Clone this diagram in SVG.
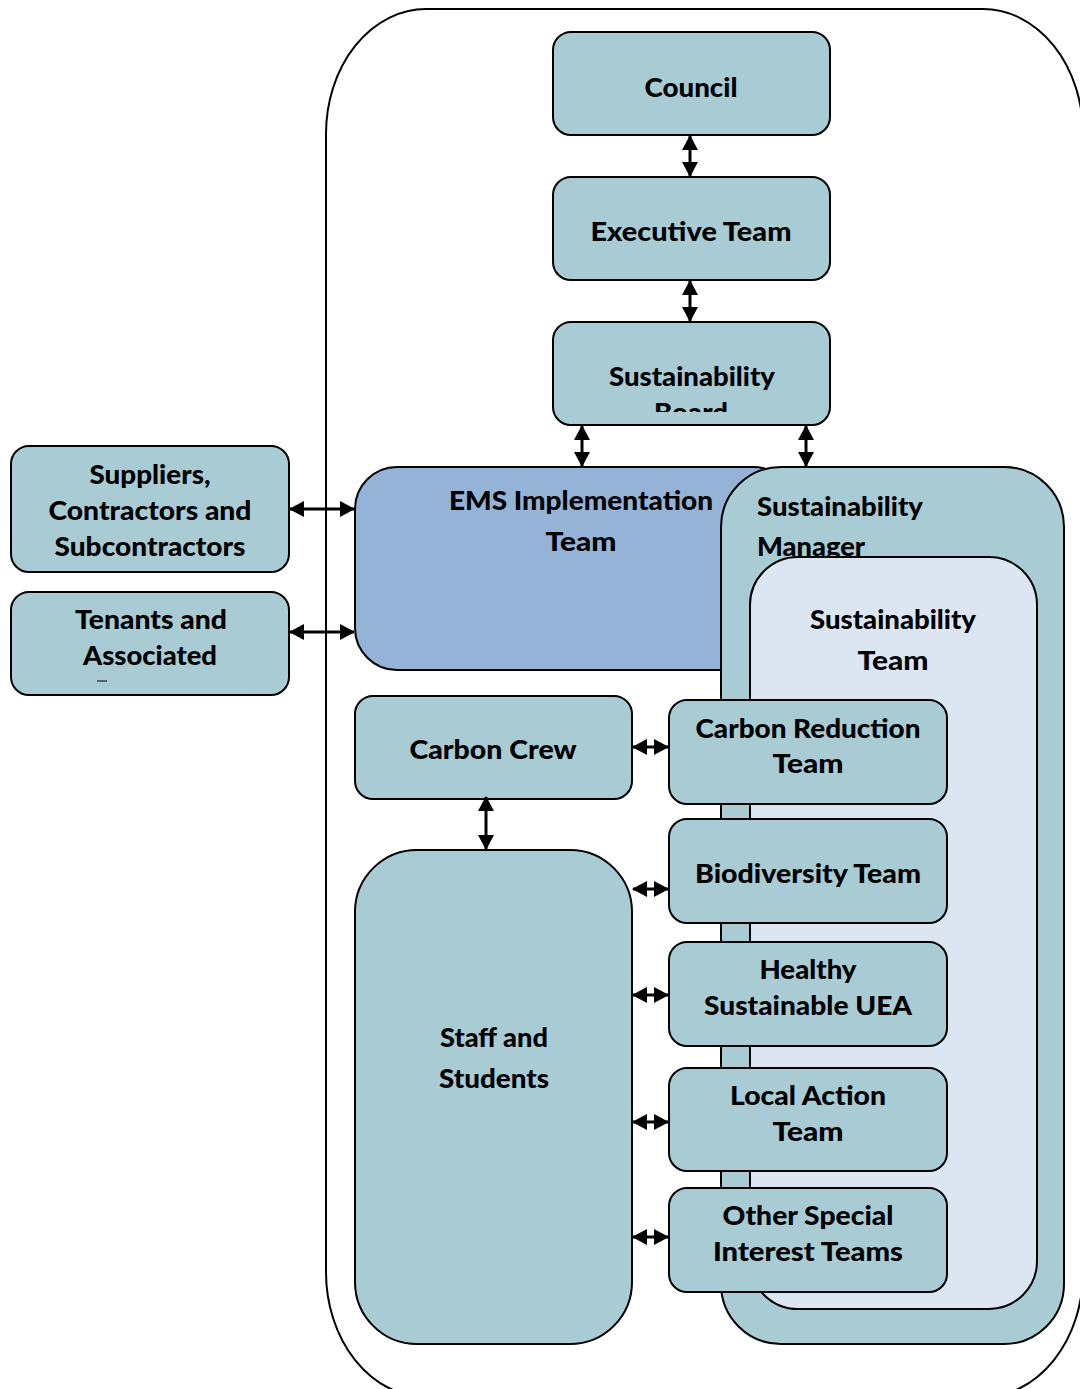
<svg xmlns="http://www.w3.org/2000/svg" width="1080" height="1389" viewBox="0 0 1080 1389">
<style>
.box{fill:#a8cbd4;stroke:#000;stroke-width:2}
.ems{fill:#95b3d7;stroke:#000;stroke-width:2}
.inner{fill:#dce6f2;stroke:#000;stroke-width:2}
.frame{fill:#fff;stroke:#000;stroke-width:2}
.t{font-family:Lato,"Open Sans","Liberation Sans",sans-serif;font-weight:900;font-size:26px;fill:#000;text-anchor:middle}
.tl{text-anchor:start}
.c{stroke:#000;stroke-width:3;fill:none;marker-start:url(#ah);marker-end:url(#ah)}
</style>
<defs>
<marker id="ah" markerUnits="userSpaceOnUse" markerWidth="15" markerHeight="16" refX="14" refY="8" orient="auto-start-reverse" viewBox="0 0 15 16">
<path d="M0,0 L15,8 L0,16 z" fill="#000"/>
</marker>
<clipPath id="clipBoard"><rect x="553" y="322" width="277" height="90"/></clipPath>
</defs>
<rect width="1080" height="1389" fill="#fff"/>
<g id="frame"><rect class="frame" x="326" y="9" width="757" height="1388" rx="100" ry="125"/></g>

<g id="ems"><rect class="ems" x="355" y="467" width="440" height="203" rx="42"/>
<text class="t" x="581" y="510" textLength="264" lengthAdjust="spacingAndGlyphs">EMS Implementation</text>
<text class="t" x="581" y="551" textLength="71" lengthAdjust="spacingAndGlyphs">Team</text></g>

<g id="sust-manager"><rect class="box" x="721" y="467" width="343" height="877" rx="60"/>
<text class="t tl" x="757" y="516" textLength="166" lengthAdjust="spacingAndGlyphs">Sustainability</text>
<text class="t tl" x="757" y="556" textLength="108" lengthAdjust="spacingAndGlyphs">Manager</text></g>

<g id="sust-team"><rect class="inner" x="750" y="557" width="287" height="752" rx="48"/>
<text class="t" x="893" y="629" textLength="166" lengthAdjust="spacingAndGlyphs">Sustainability</text>
<text class="t" x="893" y="670" textLength="71" lengthAdjust="spacingAndGlyphs">Team</text></g>

<g id="council"><rect class="box" x="553" y="32" width="277" height="103" rx="18"/>
<text class="t" x="691" y="97" textLength="93" lengthAdjust="spacingAndGlyphs">Council</text></g>

<g id="executive"><rect class="box" x="553" y="177" width="277" height="103" rx="18"/>
<text class="t" x="691" y="241" textLength="201" lengthAdjust="spacingAndGlyphs">Executive Team</text></g>

<g id="board"><rect class="box" x="553" y="322" width="277" height="103" rx="18"/>
<g clip-path="url(#clipBoard)"><text class="t" x="692" y="386" textLength="166" lengthAdjust="spacingAndGlyphs">Sustainability</text>
<text class="t" x="691" y="422" textLength="74" lengthAdjust="spacingAndGlyphs">Board</text></g></g>

<g id="suppliers"><rect class="box" x="11" y="446" width="278" height="126" rx="18"/>
<text class="t" x="150" y="484" textLength="121" lengthAdjust="spacingAndGlyphs">Suppliers,</text>
<text class="t" x="150" y="520" textLength="203" lengthAdjust="spacingAndGlyphs">Contractors and</text>
<text class="t" x="150" y="556" textLength="191" lengthAdjust="spacingAndGlyphs">Subcontractors</text></g>

<g id="tenants"><rect class="box" x="11" y="592" width="278" height="103" rx="18"/>
<text class="t" x="151" y="629" textLength="152" lengthAdjust="spacingAndGlyphs">Tenants and</text>
<text class="t" x="150" y="665" textLength="134" lengthAdjust="spacingAndGlyphs">Associated</text>
<line x1="97" y1="681" x2="107" y2="681" stroke="#000" stroke-width="1"/></g>

<g id="carbon-crew"><rect class="box" x="355" y="696" width="277" height="103" rx="18"/>
<text class="t" x="493" y="759" textLength="167" lengthAdjust="spacingAndGlyphs">Carbon Crew</text></g>

<g id="carbon-reduction"><rect class="box" x="669" y="700" width="278" height="104" rx="18"/>
<text class="t" x="808" y="738" textLength="225" lengthAdjust="spacingAndGlyphs">Carbon Reduction</text>
<text class="t" x="808" y="773" textLength="71" lengthAdjust="spacingAndGlyphs">Team</text></g>

<g id="biodiversity"><rect class="box" x="669" y="819" width="278" height="104" rx="18"/>
<text class="t" x="808" y="883" textLength="226" lengthAdjust="spacingAndGlyphs">Biodiversity Team</text></g>

<g id="healthy"><rect class="box" x="669" y="942" width="278" height="104" rx="18"/>
<text class="t" x="808" y="979" textLength="97" lengthAdjust="spacingAndGlyphs">Healthy</text>
<text class="t" x="808" y="1015" textLength="208" lengthAdjust="spacingAndGlyphs">Sustainable UEA</text></g>

<g id="local-action"><rect class="box" x="669" y="1068" width="278" height="103" rx="18"/>
<text class="t" x="808" y="1105" textLength="156" lengthAdjust="spacingAndGlyphs">Local Action</text>
<text class="t" x="808" y="1141" textLength="71" lengthAdjust="spacingAndGlyphs">Team</text></g>

<g id="other-special"><rect class="box" x="669" y="1188" width="278" height="104" rx="18"/>
<text class="t" x="808" y="1225" textLength="171" lengthAdjust="spacingAndGlyphs">Other Special</text>
<text class="t" x="808" y="1261" textLength="190" lengthAdjust="spacingAndGlyphs">Interest Teams</text></g>

<g id="staff-students"><rect class="box" x="355" y="850" width="277" height="494" rx="62"/>
<text class="t" x="494" y="1047" textLength="108" lengthAdjust="spacingAndGlyphs">Staff and</text>
<text class="t" x="494" y="1088" textLength="110" lengthAdjust="spacingAndGlyphs">Students</text></g>

<g id="connectors">
<line class="c" x1="690" y1="136" x2="690" y2="176"/>
<line class="c" x1="690" y1="281" x2="690" y2="321"/>
<line class="c" x1="582" y1="426" x2="582" y2="466"/>
<line class="c" x1="806" y1="426" x2="806" y2="466"/>
<line class="c" x1="290" y1="509" x2="354" y2="509"/>
<line class="c" x1="290" y1="632" x2="354" y2="632"/>
<line class="c" x1="633" y1="747" x2="668" y2="747"/>
<line class="c" x1="486" y1="797" x2="486" y2="849"/>
<line class="c" x1="633" y1="889" x2="668" y2="889"/>
<line class="c" x1="633" y1="995" x2="668" y2="995"/>
<line class="c" x1="633" y1="1122" x2="668" y2="1122"/>
<line class="c" x1="633" y1="1237" x2="668" y2="1237"/>
</g>
</svg>
